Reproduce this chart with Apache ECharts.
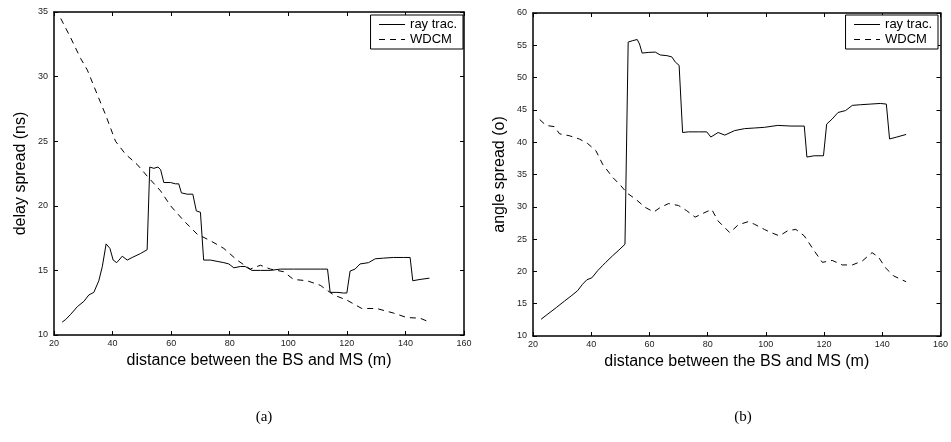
<!DOCTYPE html>
<html>
<head>
<meta charset="utf-8">
<script src="https://cdn.jsdelivr.net/npm/echarts@6/dist/echarts.min.js"></script>
<style>
  html, body { margin: 0; padding: 0; background: #fff; }
  #main { width: 951px; height: 442px; }
</style>
</head>
<body>
<div id="main"></div>
<script>
// (a) delay spread
var delayRayX = [22.8, 24, 25.7, 28, 30.2, 31.9, 33.6, 35.3, 36.5, 37.8, 39.1, 40.2, 41.4, 42.2, 43.3, 45, 46.7, 49.5, 51.8,
  52.7, 54.1, 55.5, 56.4, 57.5, 59.8, 61.5, 62.6, 63.5, 65.5, 67.4, 68.6, 70, 71.1, 73.4, 75.7, 78, 79.7, 81.4, 83.6, 85.3,
  87.6, 90.5, 93.9, 97.3, 101.8, 106.4, 110.9, 113.4, 114.3, 116.6, 118.9, 120, 121.1, 122.8, 124.5, 127.4, 129.7, 132.5,
  135.9, 139.3, 141.6, 142.5, 145, 148.2];
var delayRay = [11.0, 11.2, 11.6, 12.2, 12.6, 13.1, 13.3, 14.2, 15.3, 17.05, 16.7, 15.8, 15.6, 15.8, 16.1, 15.8, 16.0, 16.3, 16.6,
  23.0, 22.9, 23.0, 22.8, 21.8, 21.8, 21.7, 21.7, 21.0, 20.9, 20.9, 19.6, 19.5, 15.8, 15.8, 15.7, 15.6, 15.5, 15.2, 15.3, 15.3,
  15.0, 15.0, 15.0, 15.1, 15.1, 15.1, 15.1, 15.1, 13.3, 13.3, 13.25, 13.25, 14.95, 15.1, 15.5, 15.6, 15.9, 15.95,
  16.0, 16.0, 16.0, 14.2, 14.3, 14.4];
var delayWdcmX = [22.3, 25.7, 29.1, 31.4, 34.8, 37.6, 41, 44.4, 48.4, 51.8, 56.4, 59.8, 64.3, 68.9, 73.4, 78, 82.5, 87, 90.5,
  93.9, 98.4, 101.8, 106.4, 110.9, 115.5, 120, 125.1, 130.2, 135.9, 140.5, 145, 148.2];
var delayWdcm = [34.5, 33.0, 31.4, 30.5, 28.6, 27.05, 25.0, 24.0, 23.2, 22.3, 21.15, 20.0, 18.85, 17.8, 17.3, 16.7, 15.8, 15.1, 15.4,
  15.1, 14.9, 14.3, 14.2, 13.85, 13.1, 12.7, 12.05, 12.05, 11.7, 11.35, 11.3, 11.0];

// (b) angle spread
var angleRayX = [22.8, 25.1, 28, 30.8, 33.1, 35.3, 37, 38.5, 40.2, 42.2, 43.9, 45, 47.3, 49.5, 51.6, 52.7, 54.1, 55.8, 56.6,
  57.5, 59.8, 62, 63.75, 66, 67.7, 68.9, 70.2, 71.4, 73.4, 76.8, 79.7, 81.1, 83.6, 85.9, 89.3, 92.7, 96.1, 99.5, 104.1,
  108.6, 113.2, 114.1, 116.6, 119.8, 120.9, 122.8, 124.8, 127.4, 129.7, 132.5, 135.9, 139.3, 141.4, 142.5, 145, 148.2];
var angleRay = [12.6, 13.4, 14.4, 15.4, 16.2, 17.0, 18.0, 18.7, 19.0, 20.1, 20.9, 21.4, 22.4, 23.3, 24.2, 55.5, 55.7, 55.9, 55.2,
  53.8, 53.9, 53.95, 53.5, 53.4, 53.2, 52.4, 51.9, 41.5, 41.6, 41.6, 41.6, 40.8, 41.5, 41.1, 41.8, 42.1, 42.2, 42.3, 42.6,
  42.5, 42.5, 37.7, 37.9, 37.9, 42.8, 43.6, 44.6, 44.9, 45.7, 45.8, 45.9, 46.0, 45.9, 40.5, 40.8, 41.2];
var angleWdcmX = [22.3, 24.5, 27.4, 29.1, 32.5, 35.9, 38.75, 41.6, 43.9, 47.3, 50.1, 52.4, 55.2, 58.6, 61.5, 63.75, 66.6, 70,
  72.8, 75.7, 78, 81.4, 83.6, 87.6, 90.5, 93.9, 96.1, 99.5, 101.8, 104.7, 107.5, 110.3, 113.2, 116.6, 119.4, 122.8, 126.25,
  129.7, 133.1, 136.5, 138.75, 141, 143.9, 148.2];
var angleWdcm = [43.5, 42.6, 42.4, 41.3, 41.0, 40.5, 39.8, 38.7, 36.6, 34.6, 33.3, 32.1, 31.2, 29.9, 29.2, 29.9, 30.5, 30.2,
  29.4, 28.4, 28.9, 29.6, 27.8, 26.0, 27.2, 27.7, 27.3, 26.5, 26.0, 25.5, 26.3, 26.5, 25.5, 23.2, 21.4, 21.7, 21.0,
  21.0, 21.6, 22.9, 22.2, 20.6, 19.3, 18.4];

var seriesNames = ['ray trac.', 'WDCM'];
var xTitle = 'distance between the BS and MS (m)';
var yTitles = ['delay spread (ns)', 'angle spread (o)'];
var captions = ['(a)', '(b)'];

function zip(xs, ys) {
  return xs.map(function (x, i) { return [x, ys[i]]; });
}

var chart = echarts.init(document.getElementById('main'), null, { renderer: 'canvas' });

var frame = { show: true, onZero: false, lineStyle: { color: '#000', width: 1.5 } };
var tickIn = { show: true, inside: true, length: 4, lineStyle: { color: '#000', width: 1 } };
var tickLabel = { color: '#222', fontSize: 9, fontFamily: 'Liberation Sans, Arial, sans-serif' };

function xAxes(gi) {
  return [
    {
      type: 'value', gridIndex: gi, min: 20, max: 160, interval: 20, position: 'bottom',
      axisLine: frame, axisTick: tickIn, splitLine: { show: false },
      axisLabel: Object.assign({ margin: 4 }, tickLabel),
      name: xTitle, nameLocation: 'middle', nameGap: 15,
      nameTextStyle: { color: '#000', fontSize: 16, fontFamily: 'Liberation Sans, Arial, sans-serif' }
    },
    {
      type: 'value', gridIndex: gi, min: 20, max: 160, interval: 20, position: 'top',
      axisLine: frame, axisTick: tickIn, splitLine: { show: false }, axisLabel: { show: false }
    }
  ];
}

function yAxes(gi, min, max, name) {
  return [
    {
      type: 'value', gridIndex: gi, min: min, max: max, interval: 5, position: 'left',
      axisLine: frame, axisTick: tickIn, splitLine: { show: false },
      axisLabel: Object.assign({ margin: 6 }, tickLabel),
      name: name, nameLocation: 'middle', nameGap: 25,
      nameTextStyle: { color: '#000', fontSize: 16, fontFamily: 'Liberation Sans, Arial, sans-serif' }
    },
    {
      type: 'value', gridIndex: gi, min: min, max: max, interval: 5, position: 'right',
      axisLine: frame, axisTick: tickIn, splitLine: { show: false }, axisLabel: { show: false }
    }
  ];
}

function line(name, data, gi, dashed) {
  return {
    name: name, type: 'line', xAxisIndex: gi * 2, yAxisIndex: gi * 2,
    data: data, symbol: 'none', animation: false,
    lineStyle: { color: '#000', width: 1, type: dashed ? [6, 5] : 'solid' },
    itemStyle: { color: '#000' }
  };
}

function legend(gi, right) {
  return {
    data: seriesNames, orient: 'vertical', right: right, top: 15,
    backgroundColor: '#fff', borderColor: '#000', borderWidth: 1, borderRadius: 0,
    padding: [3, 6, 3, 8], itemGap: 2, itemWidth: 26, itemHeight: 10,
    itemStyle: { opacity: 0 },
    lineStyle: { width: 1 },
    textStyle: { color: '#000', fontSize: 13, fontFamily: 'Liberation Sans, Arial, sans-serif' },
    selectedMode: false
  };
}

var option = {
  backgroundColor: '#fff',
  animation: false,
  grid: [
    { left: 54, right: 487, top: 12, bottom: 107 },
    { left: 533, right: 8, top: 13, bottom: 106 }
  ],
  xAxis: xAxes(0).concat(xAxes(1)),
  yAxis: yAxes(0, 10, 35, yTitles[0]).concat(yAxes(1, 10, 60, yTitles[1])),
  legend: [legend(0, 488), legend(1, 13)],
  title: [
    { text: captions[0], left: 259, top: 405, textAlign: 'center',
      textStyle: { fontWeight: 'normal', fontSize: 15, color: '#000', fontFamily: 'Liberation Serif, serif' } },
    { text: captions[1], left: 738, top: 405, textAlign: 'center',
      textStyle: { fontWeight: 'normal', fontSize: 15, color: '#000', fontFamily: 'Liberation Serif, serif' } }
  ],
  series: [
    line(seriesNames[0], zip(delayRayX, delayRay), 0, false),
    line(seriesNames[1], zip(delayWdcmX, delayWdcm), 0, true),
    line(seriesNames[0], zip(angleRayX, angleRay), 1, false),
    line(seriesNames[1], zip(angleWdcmX, angleWdcm), 1, true)
  ]
};

chart.setOption(option);
</script>
</body>
</html>
